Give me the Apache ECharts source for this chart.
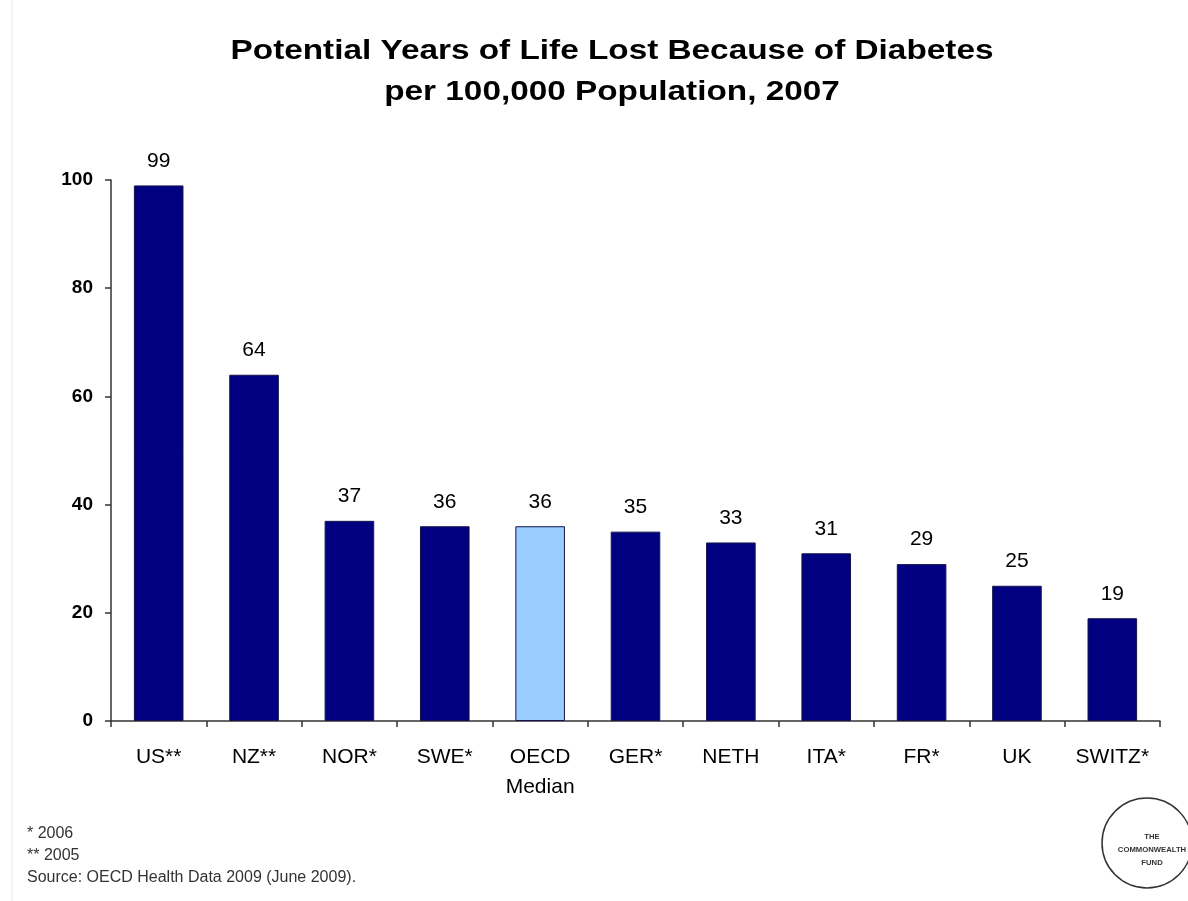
<!DOCTYPE html>
<html>
<head>
<meta charset="utf-8">
<title>Potential Years of Life Lost Because of Diabetes</title>
<script src="https://cdn.jsdelivr.net/npm/echarts@6/dist/echarts.min.js"></script>
<style>
  html, body { margin: 0; padding: 0; background: #ffffff; }
  #chart { width: 1188px; height: 901px; }
</style>
</head>
<body>
<div id="chart"></div>
<script>
// Countries (asterisks mark older data years, see footnotes)
const countries = ['US**', 'NZ**', 'NOR*', 'SWE*', 'OECD\nMedian', 'GER*', 'NETH', 'ITA*', 'FR*', 'UK', 'SWITZ*'];
// Potential years of life lost per 100,000 population
const yearsLost = [99, 64, 37, 36, 36, 35, 33, 31, 29, 25, 19];
// Y axis tick range
const yTicks = { min: 0, max: 100, step: 20 };
const titleLines = ['Potential Years of Life Lost Because of Diabetes', 'per 100,000 Population, 2007'];
const footnotes = ['* 2006', '** 2005', 'Source: OECD Health Data 2009 (June 2009).'];

const NAVY = '#000080';
const MEDIAN_BLUE = '#99CCFF';
const FONT = '"Liberation Sans", Arial, sans-serif';

const chart = echarts.init(document.getElementById('chart'));

const barData = yearsLost.map((v, i) => ({
  value: v,
  itemStyle: { color: countries[i].startsWith('OECD') ? MEDIAN_BLUE : NAVY }
}));

// Title lines drawn as wide, bold slide-style headings
const titleGraphics = titleLines.map((line, i) => ({
  type: 'text',
  x: 612,
  y: 51 + i * 41,
  scaleX: 1.19,
  style: {
    text: line,
    fontFamily: FONT,
    fontSize: 28,
    fontWeight: 'bold',
    fill: '#000000',
    align: 'center',
    verticalAlign: 'middle'
  }
}));

chart.setOption({
  backgroundColor: '#ffffff',
  animation: false,
  grid: { left: 111, right: 28, top: 180, bottom: 180, containLabel: false },
  xAxis: {
    type: 'category',
    data: countries,
    axisLine: { lineStyle: { color: '#333333', width: 1.5 } },
    axisTick: { show: true, alignWithLabel: false, length: 6, lineStyle: { color: '#333333', width: 1.5 } },
    axisLabel: {
      fontFamily: FONT,
      fontSize: 21,
      color: '#000000',
      margin: 21,
      lineHeight: 30,
      interval: 0
    }
  },
  yAxis: {
    type: 'value',
    min: yTicks.min,
    max: yTicks.max,
    interval: yTicks.step,
    splitLine: { show: false },
    axisLine: { show: true, lineStyle: { color: '#333333', width: 1.5 } },
    axisTick: { show: true, length: 6, lineStyle: { color: '#333333', width: 1.5 } },
    axisLabel: {
      fontFamily: FONT,
      fontSize: 19,
      fontWeight: 'bold',
      color: '#000000',
      margin: 18
    }
  },
  series: [{
    type: 'bar',
    data: barData,
    barWidth: '52%',
    itemStyle: { borderColor: '#15154a', borderWidth: 1 },
    label: {
      show: true,
      position: 'top',
      distance: 14,
      fontFamily: FONT,
      fontSize: 21,
      color: '#000000'
    }
  }],
  graphic: titleGraphics.concat([
    // faint page frame on the left
    { type: 'line', shape: { x1: 12, y1: 0, x2: 12, y2: 901 }, style: { stroke: '#e6e6e6', lineWidth: 1 } },
    {
      type: 'text', left: 27, top: 823,
      style: { text: footnotes.join('\n'), fontFamily: FONT, fontSize: 16, lineHeight: 22, fill: '#333333' }
    },
    // Commonwealth Fund seal
    { type: 'circle', shape: { cx: 1147, cy: 843, r: 45 }, style: { fill: '#ffffff', stroke: '#333333', lineWidth: 1.5 } },
    {
      type: 'text', x: 1152, y: 850, scaleX: 1.1,
      style: {
        text: 'THE\nCOMMONWEALTH\nFUND',
        fontFamily: FONT, fontSize: 7, fontWeight: 'bold', lineHeight: 13,
        fill: '#333333', align: 'center', verticalAlign: 'middle'
      }
    }
  ])
});
</script>
</body>
</html>
